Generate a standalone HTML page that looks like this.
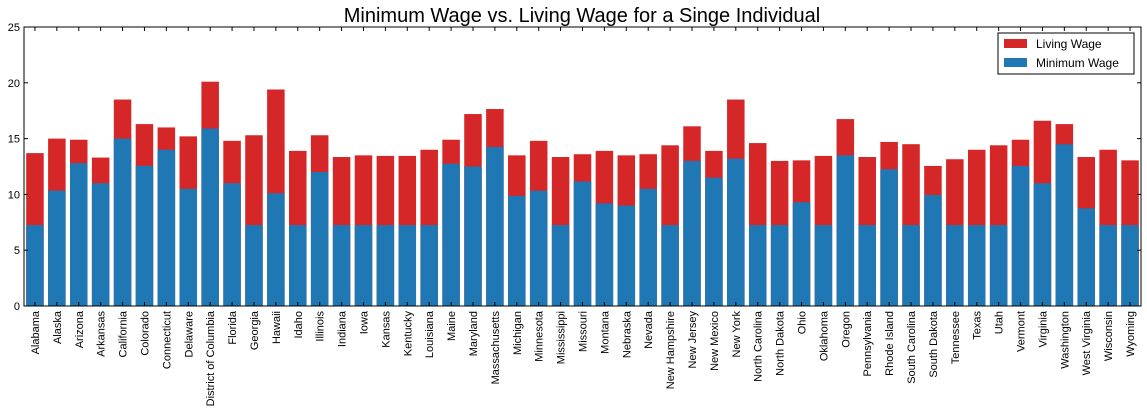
<!DOCTYPE html>
<html><head><meta charset="utf-8"><style>
body{margin:0;background:#fff;}
svg{display:block;font-family:"Liberation Sans",sans-serif;}
</style></head><body>
<svg id="chart" width="1147" height="416"></svg>
<script>
const states=["Alabama","Alaska","Arizona","Arkansas","California","Colorado","Connecticut","Delaware","District of Columbia","Florida","Georgia","Hawaii","Idaho","Illinois","Indiana","Iowa","Kansas","Kentucky","Louisiana","Maine","Maryland","Massachusetts","Michigan","Minnesota","Mississippi","Missouri","Montana","Nebraska","Nevada","New Hampshire","New Jersey","New Mexico","New York","North Carolina","North Dakota","Ohio","Oklahoma","Oregon","Pennsylvania","Rhode Island","South Carolina","South Dakota","Tennessee","Texas","Utah","Vermont","Virginia","Washington","West Virginia","Wisconsin","Wyoming"];
const minWage=[7.25,10.34,12.8,11,15,12.56,14,10.5,15.9,11,7.25,10.1,7.25,12,7.25,7.25,7.25,7.25,7.25,12.75,12.5,14.25,9.87,10.33,7.25,11.15,9.2,9,10.5,7.25,13,11.5,13.2,7.25,7.25,9.3,7.25,13.5,7.25,12.25,7.25,9.95,7.25,7.25,7.25,12.55,11,14.49,8.75,7.25,7.25];
const livingWage=[13.7,15.0,14.9,13.3,18.5,16.3,16.0,15.2,20.1,14.8,15.3,19.4,13.9,15.3,13.35,13.5,13.45,13.45,14.0,14.9,17.2,17.65,13.5,14.8,13.35,13.6,13.9,13.5,13.6,14.4,16.1,13.9,18.5,14.6,13.0,13.05,13.45,16.75,13.35,14.7,14.5,12.55,13.15,14.0,14.4,14.9,16.6,16.3,13.35,14.0,13.05];
const yTicks=[0,5,10,15,20,25];
const NS="http://www.w3.org/2000/svg";
const svg=document.getElementById('chart');
const L=24,R=1141,T=27,B=306;
const y=v=>B-(v/25)*(B-T);
const step=(R-L)/states.length;
const x=i=>L+step*i+step*0.1;
const bw=step*0.8;
function mk(t,a,parent){const e=document.createElementNS(NS,t);for(const k in a)e.setAttribute(k,a[k]);(parent||svg).appendChild(e);return e;}
const title=mk('text',{x:582,y:22,'text-anchor':'middle','font-size':20,fill:'#000'});
title.textContent='Minimum Wage vs. Living Wage for a Singe Individual';


states.forEach((s,i)=>{
  const r1=mk('rect',{x:x(i),y:y(livingWage[i]),width:bw,height:B-y(livingWage[i]),fill:'#d62728'});
  
  
  const r2=mk('rect',{x:x(i),y:y(minWage[i]),width:bw,height:B-y(minWage[i]),fill:'#1f77b4'});
  
  
  const cx=x(i)+bw/2;
  mk('line',{x1:cx,x2:cx,y1:B,y2:B-4,stroke:'#000'});
  mk('line',{x1:cx,x2:cx,y1:T,y2:T+4,stroke:'#000'});
  const t=mk('text',{x:0,y:0,'font-size':11,'text-anchor':'end',transform:`translate(${cx+4},${B+5}) rotate(-90)`});
  t.textContent=s;
  
  
});
yTicks.forEach(v=>{
  mk('line',{x1:L,x2:L+4,y1:y(v),y2:y(v),stroke:'#000'});
  mk('line',{x1:R,x2:R-4,y1:y(v),y2:y(v),stroke:'#000'});
  const t=mk('text',{x:L-4,y:y(v)+4,'font-size':11,'text-anchor':'end'});
  t.textContent=v;
  
  
});
const frame=mk('rect',{x:L,y:T,width:R-L,height:B-T,fill:'none',stroke:'#000'});


const lg=mk('g',{});


mk('rect',{x:998,y:33,width:136,height:41,fill:'#fff',stroke:'#000'},lg);
[['Living Wage','#d62728',44],['Minimum Wage','#1f77b4',63]].forEach(([n,c,yy])=>{
  mk('rect',{x:1004,y:yy-5,width:23,height:9,fill:c},lg);
  const t=mk('text',{x:1036,y:yy+4,'font-size':12},lg);
  t.textContent=n;
  
  
});
</script>
</body></html>
